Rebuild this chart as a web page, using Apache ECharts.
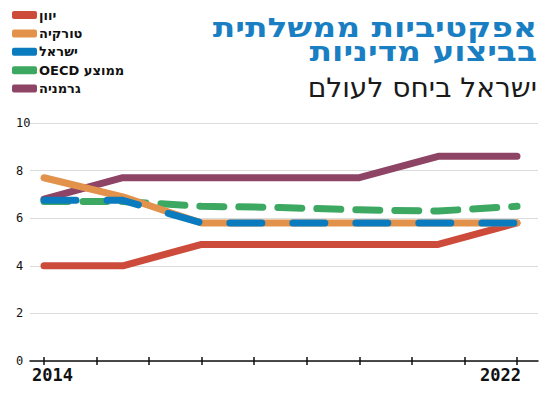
<!DOCTYPE html>
<html><head><meta charset="utf-8">
<script src="https://cdn.jsdelivr.net/npm/echarts@6/dist/echarts.min.js"></script>
<style>html,body{margin:0;padding:0;background:#fff}#c{width:550px;height:404px}</style>
</head><body><div id="c"></div>
<script>
// positions along the x axis (tick units; ticks 0..9 span 2014..2022)
const xPos = [0, 1.5, 3, 4.5, 6, 7.5, 9];
const xTickLabels = ['2014','','','','','','','','','2022'];
const yTicks = [0, 2, 4, 6, 8, 10];
const titleLines = ['אפקטיביות ממשלתית', 'בביצוע מדיניות'];
const subtitle = 'ישראל ביחס לעולם';
const names = ['יוון', 'טורקיה', 'ישראל', 'OECD ממוצע', 'גרמניה'];
const greece  = [4.0, 4.0, 4.9, 4.9, 4.9, 4.9, 5.8];
const turkey  = [7.7, 6.9, 5.8, 5.8, 5.8, 5.8, 5.8];
const israel  = [6.75, 6.75, 5.8, 5.8, 5.8, 5.8, 5.8];
const oecd    = [6.7, 6.7, 6.5, 6.45, 6.35, 6.3, 6.5];
const germany = [6.8, 7.7, 7.7, 7.7, 7.7, 8.6, 8.6];
const colors = {greece:'#cc4b3b', turkey:'#e2924b', israel:'#0b7bbf', oecd:'#3ca862', germany:'#8e4565'};

const pairs = a => xPos.map((x,i)=>[x,a[i]]);
function line(name, data, color, z, dash){
  return {name, type:'line', xAxisIndex:1, yAxisIndex:1, data:pairs(data), symbol:'none', z,
    itemStyle:{color}, lineStyle:{color, width:7, cap:'round', join:'round', type: dash||'solid'}};
}
function gtext(text, y, font, fill, sx){
  return {type:'text', x:537, y, scaleX:sx, style:{text, font, fill, align:'right', verticalAlign:'top', lineHeight:24}};
}
const chart = echarts.init(document.getElementById('c'), null, {renderer:'svg'});
chart.setOption({
  animation:false,
  graphic:[
    gtext(titleLines[0], 16, 'bold 27px "DejaVu Sans"', '#1a7fc2', 1.22),
    gtext(titleLines[1], 40, 'bold 27px "DejaVu Sans"', '#1a7fc2', 1.22),
    gtext(subtitle, 75, '27px "DejaVu Sans"', '#1a1a1a', 1.04)
  ],
  legend:{orient:'vertical', left:7, top:3, icon:'roundRect', itemWidth:25, itemHeight:8, itemGap:4.4,
    data:[names[0],names[1],names[2],names[3],names[4]],
    textStyle:{fontFamily:'DejaVu Sans', fontWeight:'bold', fontSize:13, lineHeight:14, color:'#111', padding:[0,0,0,-3]}},
  grid:[{left:30, right:12, top:123, bottom:43}, {left:44, right:33, top:123, bottom:43}],
  xAxis:[
    {gridIndex:0, type:'value', min:0, max:1, axisLine:{show:true, lineStyle:{color:'#111', width:1.5}},
     axisTick:{show:false}, axisLabel:{show:false}, splitLine:{show:false}},
    {gridIndex:1, type:'value', min:0, max:9, interval:1, offset:-4,
     axisLine:{show:false}, axisTick:{show:true, length:8, lineStyle:{color:'#111', width:1.5}},
     splitLine:{show:false},
     axisLabel:{show:true, margin:9, showMinLabel:true, showMaxLabel:true,
       formatter:v=>{const t=xTickLabels[Math.round(v)]; if(!t) return ''; return v===0?'{l|'+t+'}':'{r|'+t+'}';},
       rich:{l:{width:58, align:'right', fontFamily:'DejaVu Sans Mono', fontWeight:'bold', fontSize:17, color:'#111'},
             r:{width:74, align:'left', fontFamily:'DejaVu Sans Mono', fontWeight:'bold', fontSize:17, color:'#111'}}}}
  ],
  yAxis:[
    {gridIndex:0, type:'value', min:0, max:10, interval:2,
     axisLine:{show:false}, axisTick:{show:false},
     splitLine:{show:true, lineStyle:{color:'#dcdcdc', width:1.2}},
     axisLabel:{show:true, align:'left', margin:14, fontFamily:'DejaVu Sans Mono', fontSize:12, color:'#111',
       formatter:v=>yTicks.includes(v)?String(v):''}},
    {gridIndex:1, type:'value', min:0, max:10, show:false}
  ],
  series:[
    line(names[4], germany, colors.germany, 2),
    line(names[3], oecd, colors.oecd, 3, [24,15]),
    line(names[0], greece, colors.greece, 4),
    line(names[1], turkey, colors.turkey, 5),
    line(names[2], israel, colors.israel, 6, [32,31])
  ]
});
</script></body></html>
